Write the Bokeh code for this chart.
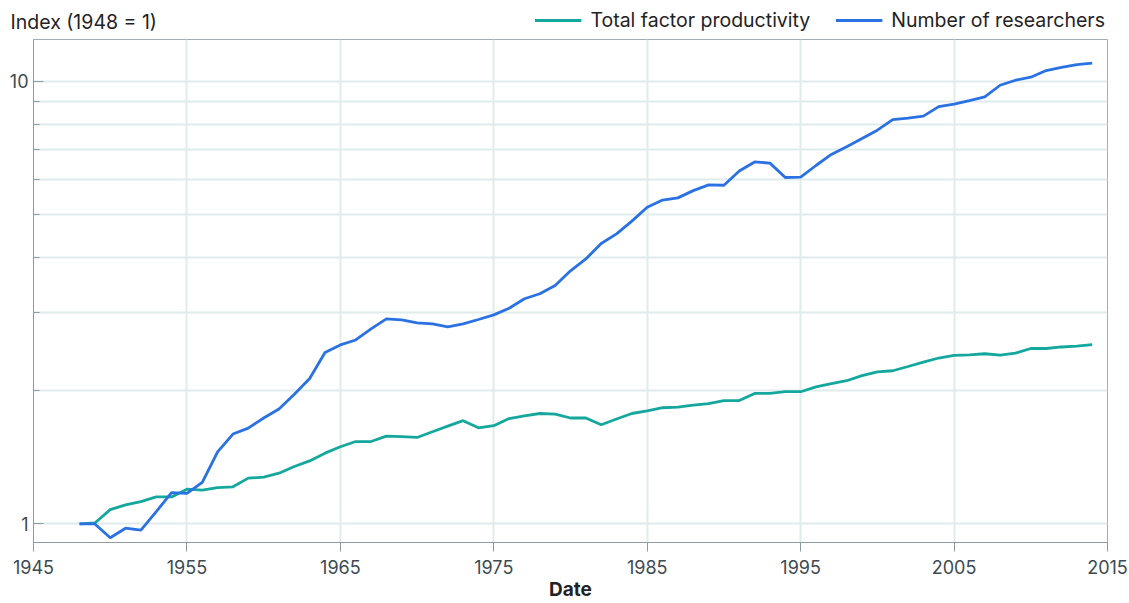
from bokeh.plotting import figure
from bokeh.layouts import column, row
from bokeh.models import (ColumnDataSource, FixedTicker, BasicTickFormatter, Legend,
                          LegendItem, Range1d)
from bokeh.core.properties import value
from bokeh.embed import file_html
from bokeh.resources import INLINE

years = list(range(1948, 2015))
tfp = [1.00, 1.005, 1.077, 1.104, 1.123, 1.151, 1.151, 1.198, 1.192, 1.208,
       1.213, 1.269, 1.275, 1.302, 1.348, 1.388, 1.445, 1.494, 1.535, 1.535,
       1.579, 1.574, 1.568, 1.615, 1.663, 1.711, 1.649, 1.667, 1.730, 1.755,
       1.776, 1.770, 1.735, 1.735, 1.675, 1.726, 1.776, 1.801, 1.830, 1.836,
       1.856, 1.870, 1.898, 1.900, 1.971, 1.971, 1.989, 1.989, 2.040, 2.075,
       2.106, 2.163, 2.204, 2.218, 2.268, 2.320, 2.370, 2.402, 2.410, 2.423,
       2.406, 2.430, 2.490, 2.490, 2.510, 2.520, 2.540]
researchers = [1.00, 1.00, 0.931, 0.978, 0.968, 1.066, 1.177, 1.172, 1.242, 1.455,
               1.596, 1.646, 1.735, 1.818, 1.964, 2.131, 2.440, 2.537, 2.603, 2.757,
               2.906, 2.890, 2.844, 2.830, 2.785, 2.830, 2.896, 2.966, 3.070, 3.225,
               3.310, 3.455, 3.730, 3.967, 4.300, 4.520, 4.830, 5.190, 5.390, 5.450,
               5.660, 5.830, 5.820, 6.270, 6.570, 6.530, 6.060, 6.070, 6.450, 6.830,
               7.110, 7.420, 7.750, 8.190, 8.250, 8.340, 8.760, 8.870, 9.040, 9.220,
               9.790, 10.050, 10.210, 10.570, 10.740, 10.900, 10.990]
series_names = ["Total factor productivity", "Number of researchers"]
y_caption = "Index (1948 = 1)"
x_label = "Date"
x_ticks = [1945, 1955, 1965, 1975, 1985, 1995, 2005, 2015]
y_major = [1, 10]
y_minor = [2, 3, 4, 5, 6, 7, 8, 9]

TEAL = "#14A79D"
BLUE = "#2A71E4"
GRID = "#E0ECEC"
AXIS = "#8E9BA3"
TXT = "#1F2326"
TICKTXT = "#3C4A53"
FONT = "Inter"
W = 1129
HEAD_H = 38
NAN = float("nan")

# ---------- header: caption + legend ----------
head = figure(width=W, height=HEAD_H, x_range=Range1d(0, W), y_range=Range1d(HEAD_H, 0),
              x_axis_type=None, y_axis_type=None, output_backend="svg",
              toolbar_location=None, min_border=0, min_border_left=0,
              min_border_right=0, min_border_top=1, min_border_bottom=0)
head.outline_line_color = None
head.background_fill_color = "white"
head.border_fill_color = "white"
head.grid.visible = False
head.text(x=[10], y=[21.2], text=[y_caption], text_font=value(FONT),
          text_font_size="19.5px", text_color=TXT, text_align="left",
          text_baseline="middle")
h1 = head.line(x=[NAN], y=[NAN], line_color=TEAL, line_width=2.8)
h2 = head.line(x=[NAN], y=[NAN], line_color=BLUE, line_width=2.8)
legend = Legend(items=[LegendItem(label=series_names[0], renderers=[h1]),
                       LegendItem(label=series_names[1], renderers=[h2])],
                location="center_right", orientation="horizontal",
                glyph_width=47, glyph_height=20, label_standoff=9, spacing=25,
                padding=0, margin=24, border_line_color=None,
                background_fill_alpha=0,
                label_text_font=FONT, label_text_font_size="19.5px",
                label_text_color=TXT)
head.add_layout(legend, "center")

# ---------- main chart ----------
src = ColumnDataSource(dict(year=years, tfp=tfp, res=researchers))

p = figure(width=W, height=565, y_axis_type="log",
           x_range=(1945, 2015), y_range=(0.908, 12.42),
           output_backend="svg", toolbar_location=None,
           min_border_left=33, min_border_right=22, min_border_top=1,
           min_border_bottom=61)
p.background_fill_color = "white"
p.border_fill_color = "white"
p.outline_line_color = "#A3AEB4"
p.outline_line_width = 1

p.line("year", "tfp", source=src, line_color=TEAL, line_width=2.8)
p.line("year", "res", source=src, line_color=BLUE, line_width=2.8)

xa = p.xaxis[0]
xa.ticker = FixedTicker(ticks=x_ticks)
xa.formatter = BasicTickFormatter(use_scientific=False)
xa.axis_line_color = AXIS
xa.major_tick_line_color = AXIS
xa.major_tick_out = 9
xa.major_tick_in = 0
xa.minor_tick_line_color = None
xa.major_label_text_font = FONT
xa.major_label_text_font_size = "18px"
xa.major_label_text_color = TICKTXT
xa.major_label_standoff = 8
xa.axis_label = x_label
xa.axis_label_text_font = FONT
xa.axis_label_text_font_size = "19px"
xa.axis_label_text_font_style = "bold"
xa.axis_label_text_color = TXT
xa.axis_label_standoff = 1

ya = p.yaxis[0]
ya.ticker = FixedTicker(ticks=y_major, minor_ticks=y_minor)
ya.formatter = BasicTickFormatter(use_scientific=False)
ya.axis_line_color = AXIS
ya.major_tick_line_color = AXIS
ya.minor_tick_line_color = AXIS
ya.major_tick_in = 10
ya.major_tick_out = 0
ya.minor_tick_in = 6
ya.minor_tick_out = 0
ya.major_label_text_font = FONT
ya.major_label_text_font_size = "18px"
ya.major_label_text_color = TICKTXT
ya.major_label_standoff = 5

p.xgrid.ticker = FixedTicker(ticks=x_ticks)
p.xgrid.grid_line_color = GRID
p.xgrid.grid_line_width = 2
p.ygrid.ticker = FixedTicker(ticks=y_major, minor_ticks=y_minor)
p.ygrid.grid_line_color = GRID
p.ygrid.grid_line_width = 2
p.ygrid.minor_grid_line_color = GRID
p.ygrid.minor_grid_line_width = 2

layout = column(row(head), p, spacing=0)
open("out.html", "w").write(file_html(layout, INLINE))
